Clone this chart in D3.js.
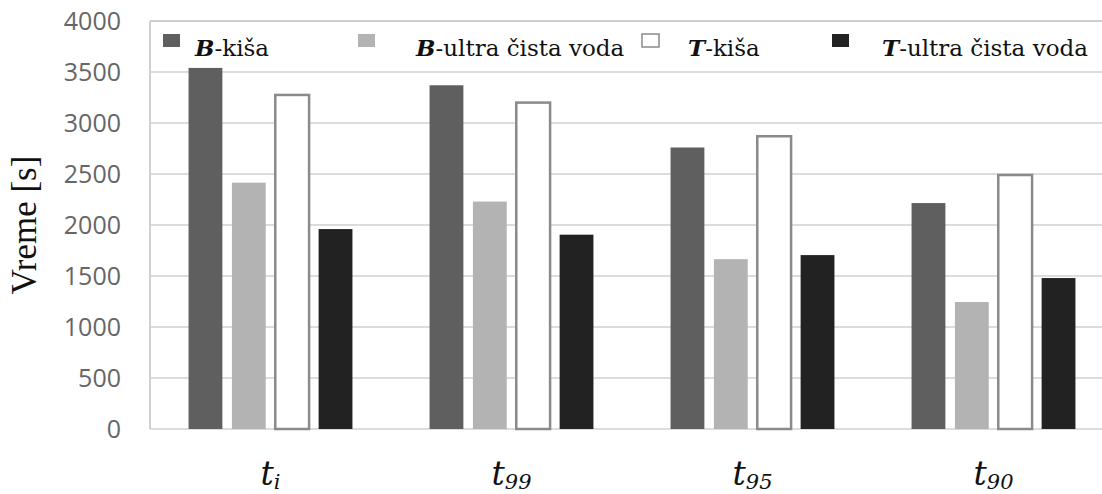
<!DOCTYPE html>
<html>
<head>
<meta charset="utf-8">
<script src="https://cdn.jsdelivr.net/npm/d3@7"></script>
<style>
  body { margin: 0; background: #fff; }
  svg { display: block; }
</style>
</head>
<body>
<svg></svg>
<script>
// podaci
var kategorije = ["i", "99", "95", "90"];
var serije = ["Bk", "Bu", "Tk", "Tu"];
var bKisa = [3540, 3370, 2760, 2215];
var bUltra = [2415, 2230, 1665, 1245];
var tKisa = [3275, 3200, 2870, 2490];
var tUltra = [1960, 1905, 1705, 1480];
var yTicks = [0, 500, 1000, 1500, 2000, 2500, 3000, 3500, 4000];
var legendaSlovo = ["B", "B", "T", "T"];
var legendaTekst = ["-kiša", "-ultra čista voda", "-kiša", "-ultra čista voda"];

var vrednosti = [bKisa, bUltra, tKisa, tUltra];

var width = 1102, height = 494;
var serif = "'DejaVu Serif', 'Liberation Serif', serif";
var svg = d3.select("svg")
    .attr("width", width)
    .attr("height", height);

var x0 = d3.scaleBand()
    .domain(kategorije)
    .range([150, 1114])
    .paddingInner(0.32)
    .paddingOuter(0.16);

var x1 = d3.scaleBand()
    .domain(serije)
    .range([0, x0.bandwidth()])
    .paddingInner(0.22);

var y = d3.scaleLinear()
    .domain([0, 4000])
    .range([429, 21]);

var boje = {Bk: "#5f5f5f", Bu: "#b3b3b3", Tk: "#ffffff", Tu: "#222222"};

// mreza
svg.append("g")
    .selectAll("line")
    .data(yTicks)
    .enter().append("line")
    .attr("x1", 150)
    .attr("x2", width)
    .attr("y1", function (d) { return y(d); })
    .attr("y2", function (d) { return y(d); })
    .attr("stroke", function (d) { return d === 4000 ? "#cfcfcf" : "#dcdcdc"; })
    .attr("stroke-width", 2);

svg.append("line")
    .attr("x1", 150).attr("x2", 150)
    .attr("y1", y(4000)).attr("y2", y(0))
    .attr("stroke", "#d0d0d0")
    .attr("stroke-width", 2);

// y oznake
svg.append("g")
    .selectAll("text")
    .data(yTicks)
    .enter().append("text")
    .attr("x", 121)
    .attr("y", function (d) { return y(d); })
    .attr("dy", "0.36em")
    .attr("text-anchor", "end")
    .style("font-family", "'Open Sans', sans-serif")
    .style("font-size", "25px")
    .style("fill", "#666")
    .text(function (d) { return d; });

svg.append("text")
    .attr("transform", "translate(36," + y(2000) + ") rotate(-90)")
    .attr("text-anchor", "middle")
    .style("font-family", "'Liberation Serif', 'Times New Roman', serif")
    .style("font-size", "35px")
    .style("fill", "#111")
    .text("Vreme [s]");

// stubici
var grupe = svg.append("g")
    .selectAll("g")
    .data(kategorije)
    .enter().append("g")
    .attr("transform", function (d) { return "translate(" + x0(d) + ",0)"; });

grupe.selectAll("rect")
    .data(function (d, i) {
        return serije.map(function (s, j) {
            return {serija: s, v: vrednosti[j][i]};
        });
    })
    .enter().append("rect")
    .attr("x", function (d) { return x1(d.serija); })
    .attr("y", function (d) { return y(d.v); })
    .attr("width", x1.bandwidth())
    .attr("height", function (d) { return y(0) - y(d.v); })
    .attr("fill", function (d) { return boje[d.serija]; })
    .attr("stroke", function (d) { return d.serija === "Tk" ? "#8a8a8a" : "none"; })
    .attr("stroke-width", 2.5);

// x oznake
var xl = svg.append("g")
    .selectAll("text")
    .data(kategorije)
    .enter().append("text")
    .attr("x", function (d) { return x0(d) + x0.bandwidth() / 2; })
    .attr("y", 485)
    .attr("text-anchor", "middle")
    .style("font-family", serif)
    .style("font-style", "italic")
    .style("fill", "#111");

xl.append("tspan")
    .style("font-size", "33px")
    .text("t");
xl.append("tspan")
    .attr("dy", 4)
    .style("font-size", "21px")
    .text(function (d) { return d; });

// legenda
var legX = [163, 358, 642, 832];
var legT = [195, 416, 688, 882];

var leg = svg.append("g")
    .selectAll("g")
    .data(serije)
    .enter().append("g");

leg.append("rect")
    .attr("x", function (d, i) { return legX[i]; })
    .attr("y", 34)
    .attr("width", 17)
    .attr("height", 13)
    .attr("fill", function (d) { return boje[d]; })
    .attr("stroke", function (d) { return d === "Tk" ? "#8a8a8a" : "none"; })
    .attr("stroke-width", 1.5);

var lt = leg.append("text")
    .attr("x", function (d, i) { return legT[i]; })
    .attr("y", 56)
    .style("font-family", serif)
    .style("font-size", "23px")
    .style("fill", "#111");

lt.append("tspan")
    .style("font-weight", "bold")
    .style("font-style", "italic")
    .text(function (d, i) { return legendaSlovo[i]; });
lt.append("tspan")
    .text(function (d, i) { return legendaTekst[i]; });
</script>
</body>
</html>
